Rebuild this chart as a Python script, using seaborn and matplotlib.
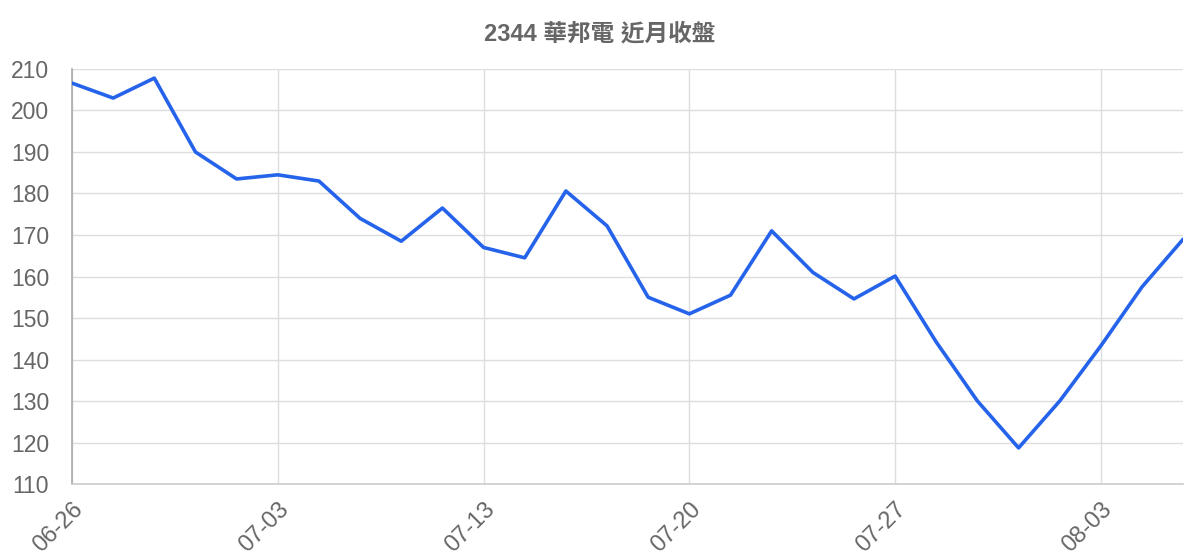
import matplotlib
matplotlib.use("Agg")
import matplotlib.pyplot as plt
import pandas as pd
import seaborn as sns

title = "2344 華邦電 近月收盤"

dates = [
    "06-26", "06-27", "06-28", "06-29", "06-30",
    "07-03", "07-04", "07-05", "07-06", "07-07",
    "07-13", "07-14", "07-17", "07-18", "07-19",
    "07-20", "07-21", "07-24", "07-25", "07-26",
    "07-27", "07-28", "07-31", "08-01", "08-02",
    "08-03", "08-04", "08-07",
]
close = [
    206.6, 203.0, 207.8, 190.0, 183.5,
    184.5, 183.0, 174.0, 168.5, 176.5,
    167.0, 164.5, 180.6, 172.2, 155.0,
    151.0, 155.5, 171.0, 161.0, 154.6,
    160.1, 144.2, 130.0, 118.7, 130.0,
    143.3, 157.5, 169.0,
]
tick_labels = ["06-26", "07-03", "07-13", "07-20", "07-27", "08-03"]
y_ticks = list(range(110, 211, 10))

df = pd.DataFrame({"date": dates, "close": close})
df["idx"] = range(len(df))

sns.set_theme(style="white")
plt.rcParams["font.family"] = ["Liberation Sans", "Noto Sans CJK TC", "DejaVu Sans"]

fig = plt.figure(figsize=(12, 5.6), dpi=100)
ax = fig.add_axes([0.06, 0.1357, 0.926, 0.7411])

sns.lineplot(data=df, x="idx", y="close", ax=ax, color="#2563eb",
             linewidth=2.6, zorder=3)

tick_pos = [dates.index(t) for t in tick_labels]
ax.set_xticks(tick_pos)
ax.set_xticklabels(tick_labels, rotation=45, ha="right", rotation_mode="anchor",
                   fontsize=17, color="#666666")
ax.set_yticks(y_ticks)
ax.set_yticklabels([str(v) for v in y_ticks], fontsize=16.5, color="#666666")
ax.set_xlim(0, len(dates) - 1)
ax.set_ylim(110, 210)

ax.grid(True, color="#dddddd", linewidth=1)
ax.tick_params(axis="x", length=9, color="#dddddd", width=1, pad=1)
ax.tick_params(axis="y", length=14.5, color="#dddddd", width=1, pad=2)

for s in ["top", "right"]:
    ax.spines[s].set_visible(False)
ax.spines["left"].set_color("#aaaaaa")
ax.spines["bottom"].set_color("#cccccc")
ax.spines["left"].set_linewidth(1.2)
ax.spines["bottom"].set_linewidth(1.2)

ax.set_xlabel("")
ax.set_ylabel("")
fig.text(0.5, 1 - 34 / 560, title, ha="center", va="center", fontsize=17,
         fontweight="bold", color="#666666",
         family=["Liberation Sans", "Noto Sans CJK TC"])

fig.savefig("out.png", dpi=100)
